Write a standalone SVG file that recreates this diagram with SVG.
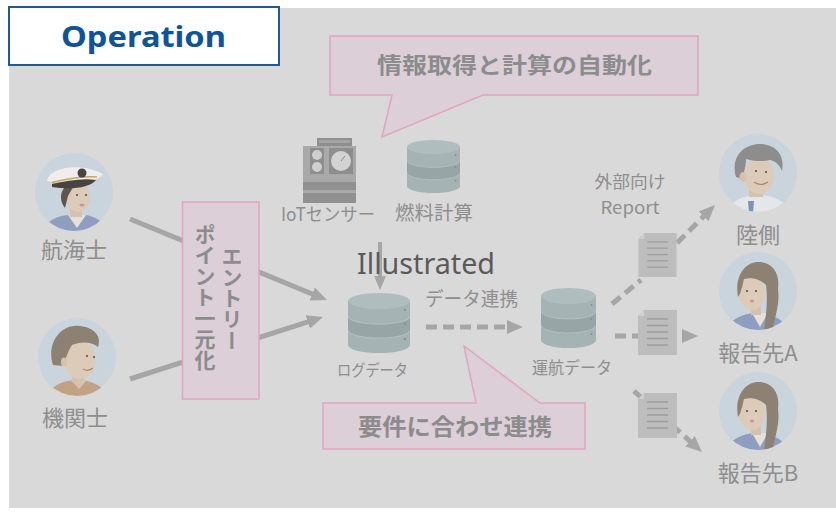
<svg xmlns="http://www.w3.org/2000/svg" xmlns:xlink="http://www.w3.org/1999/xlink" width="836" height="516" viewBox="0 0 836 516">
  <style>
    .lbl { font-family: "Noto Sans CJK JP", "Noto Sans", sans-serif; fill: #8e8e8e; }
    .call { font-family: "Noto Sans CJK JP", "Noto Sans", sans-serif; font-weight: bold; fill: #8c8c8c; }
    .callout { fill: #dccfd8; stroke: #e2a4bf; stroke-width: 1.5; }
    .solid { stroke: #a6a6a6; stroke-width: 5; fill: none; }
    .dash { stroke: #a6a6a6; stroke-width: 5; fill: none; stroke-dasharray: 11 6; }
    .vt { font-family: "Noto Sans CJK JP", sans-serif; font-weight: bold; font-size: 21px; fill: #8c8c8c; writing-mode: vertical-rl; }
  </style>
  <defs>
    <marker id="ah" markerUnits="userSpaceOnUse" markerWidth="16" markerHeight="14" refX="6" refY="7" orient="auto">
      <path d="M0,0 L16,7 L0,14 Z" fill="#a6a6a6"/>
    </marker>
    <marker id="ahs" markerUnits="userSpaceOnUse" markerWidth="14" markerHeight="12" refX="5" refY="6" orient="auto">
      <path d="M0,0 L14,6 L0,12 Z" fill="#a6a6a6"/>
    </marker>
    <clipPath id="face"><circle r="39"/></clipPath>
    <symbol id="db" viewBox="0 0 60 60" preserveAspectRatio="none">
      <path d="M0,8 V52 A30,8 0 0 0 60,52 V8 Z" fill="#a5b3b5"/>
      <path d="M0,23 A30,8 0 0 0 60,23 V37 A30,8 0 0 1 0,37 Z" fill="#97a5a7"/>
      <path d="M0,23 A30,8 0 0 0 60,23 M0,37 A30,8 0 0 0 60,37" fill="none" stroke="#b3bfc1" stroke-width="1"/>
      <ellipse cx="30" cy="8" rx="30" ry="8" fill="#b0bdbf"/>
      <circle cx="55" cy="17" r="1" fill="#7f8c8e"/>
      <circle cx="55" cy="31" r="1" fill="#7f8c8e"/>
      <circle cx="55" cy="46" r="1" fill="#7f8c8e"/>
    </symbol>
    <symbol id="doc" viewBox="0 0 39 45">
      <path d="M6,0 H39 V45 H0 V6 Z" fill="#bdbdbd"/>
      <path d="M0,6 H6 V0 Z" fill="#cfcfcf"/>
      <path d="M9,9 H30 M9,15.5 H30 M9,22 H30 M9,28.5 H30 M9,35 H30" stroke="#9d9d9d" stroke-width="1.3"/>
    </symbol>
  </defs>

  <!-- backdrop -->
  <rect x="9" y="8" width="827" height="500" fill="#d9d9d9"/>

  <!-- heading -->
  <g id="title">
    <rect x="9" y="7" width="270" height="58" fill="#ffffff" stroke="#1f5b99" stroke-width="2"/>
    <text x="61" y="47" font-family="'Noto Sans', 'Liberation Sans', sans-serif" font-weight="bold" font-size="29" fill="#0f5497" textLength="165" lengthAdjust="spacingAndGlyphs">Operation</text>
  </g>

  <!-- connectors -->
  <g id="connectors">
    <line class="solid" x1="130" y1="219" x2="317.7" y2="296.2" marker-end="url(#ah)"/>
    <line class="solid" x1="130" y1="379" x2="313.5" y2="320.1" marker-end="url(#ah)"/>
    <line x1="380" y1="242" x2="380" y2="281" stroke="#a6a6a6" stroke-width="4" marker-end="url(#ahs)"/>
    <line class="dash" x1="426" y1="327" x2="513" y2="327" marker-end="url(#ah)"/>
    <line class="dash" x1="612" y1="304" x2="641" y2="280"/>
    <line class="dash" x1="677" y1="243" x2="707.9" y2="212.1" marker-end="url(#ah)"/>
    <line class="dash" x1="615" y1="336" x2="688" y2="336" marker-end="url(#ah)"/>
    <line class="dash" x1="634" y1="391" x2="694.5" y2="445.3" marker-end="url(#ah)"/>
  </g>

  <!-- entry point box -->
  <g id="entry">
    <rect class="callout" x="182.5" y="202" width="76.5" height="197"/>
    <text class="vt" x="232" y="246">エントリー</text>
    <text class="vt" x="205" y="224">ポイント一元化</text>
  </g>

  <!-- callouts -->
  <g id="callout-auto">
    <path class="callout" d="M330,36 H698 V95 H483 L382,137 L392,95 H330 Z"/>
    <text class="call" x="514.5" y="73" font-size="22" text-anchor="middle" textLength="275" lengthAdjust="spacingAndGlyphs">情報取得と計算の自動化</text>
  </g>
  <g id="callout-link">
    <path class="callout" d="M323,403 H476 L464,346 L540,403 H585 V449 H323 Z"/>
    <text class="call" x="455" y="435" font-size="23" text-anchor="middle" textLength="194" lengthAdjust="spacingAndGlyphs">要件に合わせ連携</text>
  </g>

  <!-- navigator -->
  <g id="navigator">
    <g transform="translate(74,192)">
      <circle r="39" fill="#c9d4dd"/>
      <g clip-path="url(#face)">
        <path d="M-32,40 C-28,28 -16,24 -6,23 L12,23 C22,25 30,29 34,40 Z" fill="#8e9ec0"/>
        <path d="M-6,23 L3,36 L12,23 Z" fill="#e4e1dc"/>
        <rect x="-4" y="14" width="12" height="11" fill="#d4c1ae"/>
        <ellipse cx="4" cy="5" rx="12" ry="15" fill="#dccbb9"/>
        <path d="M-8,-6 C-15,0 -14,10 -9,16 L-6,4 C-4,0 -2,-3 0,-6 Z" fill="#5f564d"/>
        <circle cx="3" cy="3" r="1.1" fill="#5a524a"/>
        <circle cx="12" cy="3" r="1.1" fill="#5a524a"/>
        <ellipse cx="8" cy="13" rx="2.6" ry="1.6" fill="#d9909f"/>
      </g>
      <path d="M-27,-11 C-26,-23 4,-31 29,-18 C26,-10 -6,-5 -27,-11 Z" fill="#efeeec"/>
      <path d="M-22,-8 C-8,-11 8,-14 22,-12 C16,-4 -4,-2 -22,-5 Z" fill="#4a4440"/>
      <path d="M-22,-9.5 C-8,-13 8,-16 23,-15" stroke="#c7a55e" stroke-width="1.4" fill="none"/>
      <circle cx="8" cy="-19" r="4.5" fill="#4a4440"/>
    </g>
    <text class="lbl" x="74" y="258" font-size="22" text-anchor="middle">航海士</text>
  </g>

  <!-- engineer -->
  <g id="engineer">
    <g transform="translate(77,357)">
      <circle r="39" fill="#c9d4dd"/>
      <g clip-path="url(#face)">
        <path d="M-32,40 C-26,28 -12,23 0,23 C12,23 26,28 34,40 Z" fill="#c3a284"/>
        <path d="M-6,23 L2,32 L10,23 Z" fill="#d7c4b0"/>
        <rect x="-5" y="12" width="12" height="13" fill="#d4c1ae"/>
        <ellipse cx="3" cy="3" rx="16" ry="19" fill="#dccbb9"/>
        <path d="M-24,8 C-31,-14 -16,-33 2,-31 C17,-30 25,-21 21,-10 C13,-16 3,-15 -5,-12 C-9,-6 -11,0 -13,9 Z" fill="#8c8173"/>
        <ellipse cx="-13" cy="5" rx="3" ry="4.5" fill="#d4c1ae"/>
        <circle cx="10" cy="-1" r="1.1" fill="#5a524a"/>
        <circle cx="17" cy="0" r="1.1" fill="#5a524a"/>
        <path d="M6,12 Q11,15 16,11" stroke="#b57f70" stroke-width="1.2" fill="none"/>
      </g>
    </g>
    <text class="lbl" x="75" y="426" font-size="22" text-anchor="middle">機関士</text>
  </g>

  <!-- IoT sensor -->
  <g id="iot-sensor">
    <rect x="317" y="138" width="35" height="8" fill="#8f8f8f"/>
    <rect x="319" y="140" width="31" height="3" fill="#a3a3a3"/>
    <rect x="303" y="146" width="53" height="57" fill="#a9a9a9"/>
    <rect x="310" y="148" width="14" height="26" fill="#8e8e8e"/>
    <circle cx="317" cy="155" r="5" fill="#cfcfcf"/>
    <circle cx="317" cy="167" r="5" fill="#cfcfcf"/>
    <rect x="329" y="148" width="24" height="26" fill="#8e8e8e"/>
    <circle cx="341" cy="161" r="10" fill="#d3d3d3"/>
    <path d="M341,161 L345,156" stroke="#8e8e8e" stroke-width="1"/>
    <rect x="303" y="182" width="53" height="8" fill="#909090"/>
    <rect x="303" y="193" width="53" height="10" fill="#909090"/>
    <text class="lbl" x="281" y="221" font-size="18" textLength="94" lengthAdjust="spacingAndGlyphs">IoTセンサー</text>
  </g>

  <!-- fuel calculation -->
  <g id="fuel-calc">
    <use href="#db" x="407" y="140" width="53" height="53"/>
    <text class="lbl" x="434" y="220" font-size="19" text-anchor="middle" textLength="78" lengthAdjust="spacingAndGlyphs">燃料計算</text>
  </g>

  <text x="357" y="274" font-family="'Noto Sans', 'Open Sans', sans-serif" font-size="29" fill="#5a5a5a" textLength="138" lengthAdjust="spacingAndGlyphs">Illustrated</text>

  <!-- log data -->
  <g id="log-data">
    <use href="#db" x="348" y="293" width="62" height="60"/>
    <text class="lbl" x="372.5" y="376" font-size="16" text-anchor="middle" textLength="71" lengthAdjust="spacingAndGlyphs">ログデータ</text>
  </g>

  <text class="lbl" x="471.5" y="306" font-size="19" text-anchor="middle" textLength="93" lengthAdjust="spacingAndGlyphs">データ連携</text>

  <!-- voyage data -->
  <g id="voyage-data">
    <use href="#db" x="541" y="288" width="55" height="60"/>
    <text class="lbl" x="572" y="374" font-size="17" text-anchor="middle" textLength="80" lengthAdjust="spacingAndGlyphs">運航データ</text>
  </g>

  <!-- reports -->
  <g id="report-label">
    <text class="lbl" x="630" y="188" font-size="16.5" text-anchor="middle" textLength="71" lengthAdjust="spacingAndGlyphs">外部向け</text>
    <text class="lbl" x="630" y="214" font-size="17" text-anchor="middle" textLength="59" lengthAdjust="spacingAndGlyphs">Report</text>
  </g>
  <g id="report-1"><use href="#doc" x="638" y="233" width="39" height="44"/></g>
  <g id="report-2"><use href="#doc" x="638" y="310" width="39" height="45"/></g>
  <g id="report-3"><use href="#doc" x="638" y="393" width="39" height="45"/></g>

  <!-- shore side -->
  <g id="shore">
    <g transform="translate(758,173)">
      <circle r="39" fill="#c9d4dd"/>
      <g clip-path="url(#face)">
        <path d="M-32,40 C-26,26 -12,22 0,22 C12,22 26,26 34,40 Z" fill="#e4e6e9"/>
        <path d="M-10,28 L-4,28 L-5,40 L-9,40 Z" fill="#7e93b3"/>
        <rect x="-9" y="10" width="14" height="14" fill="#d4c1ae"/>
        <ellipse cx="1" cy="3" rx="15" ry="18" fill="#dccbb9"/>
        <path d="M-22,4 C-28,-16 -14,-30 4,-29 C18,-28 27,-18 24,-2 C21,-9 17,-12 12,-13 C4,-11 -6,-12 -12,-14 C-12,-6 -14,-2 -16,6 Z" fill="#8d8d8d"/>
        <ellipse cx="-15" cy="4" rx="3.5" ry="5" fill="#d4c1ae"/>
        <circle cx="-2" cy="-2" r="1.1" fill="#5a524a"/>
        <circle cx="8" cy="-1" r="1.1" fill="#5a524a"/>
        <path d="M-4,9 Q3,14 10,9" stroke="#b0806f" stroke-width="1.2" fill="none"/>
      </g>
    </g>
    <text class="lbl" x="758" y="243" font-size="22" text-anchor="middle">陸側</text>
  </g>

  <!-- recipient A -->
  <g id="recipient-a">
    <g transform="translate(758,291)">
      <circle r="39" fill="#c9d4dd"/>
      <g clip-path="url(#face)">
        <path d="M-34,40 C-28,28 -14,22 -2,22 C10,22 24,26 32,40 Z" fill="#8e9ec0"/>
        <path d="M-6,22 L2,36 L10,22 Z" fill="#e4e1dc"/>
        <rect x="-7" y="10" width="10" height="14" fill="#d4c1ae"/>
        <ellipse cx="-6" cy="2" rx="13" ry="17" fill="#dccbb9"/>
        <path d="M-20,6 C-24,-16 -12,-30 2,-29 C16,-28 22,-16 20,-2 C22,10 18,24 14,40 L6,40 C8,24 10,10 8,-6 C2,-12 -6,-14 -14,-12 C-16,-4 -17,2 -20,6 Z" fill="#8c8173"/>
        <circle cx="-11" cy="0" r="1.1" fill="#5a524a"/>
        <circle cx="-2" cy="0" r="1.1" fill="#5a524a"/>
        <ellipse cx="-6" cy="10" rx="2.4" ry="1.5" fill="#d9909f"/>
      </g>
    </g>
    <text class="lbl" x="758" y="361" font-size="22" text-anchor="middle">報告先A</text>
  </g>

  <!-- recipient B -->
  <g id="recipient-b">
    <g transform="translate(758,411)">
      <circle r="39" fill="#c9d4dd"/>
      <g clip-path="url(#face)">
        <path d="M-34,40 C-28,28 -14,22 -2,22 C10,22 24,26 32,40 Z" fill="#8e9ec0"/>
        <path d="M-6,22 L2,36 L10,22 Z" fill="#e4e1dc"/>
        <rect x="-7" y="10" width="10" height="14" fill="#d4c1ae"/>
        <ellipse cx="-6" cy="2" rx="13" ry="17" fill="#dccbb9"/>
        <path d="M-20,6 C-24,-16 -12,-30 2,-29 C16,-28 22,-16 20,-2 C22,10 18,24 14,40 L6,40 C8,24 10,10 8,-6 C2,-12 -6,-14 -14,-12 C-16,-4 -17,2 -20,6 Z" fill="#8c8173"/>
        <circle cx="-11" cy="0" r="1.1" fill="#5a524a"/>
        <circle cx="-2" cy="0" r="1.1" fill="#5a524a"/>
        <ellipse cx="-6" cy="10" rx="2.4" ry="1.5" fill="#d9909f"/>
      </g>
    </g>
    <text class="lbl" x="758" y="481" font-size="22" text-anchor="middle">報告先B</text>
  </g>
</svg>
